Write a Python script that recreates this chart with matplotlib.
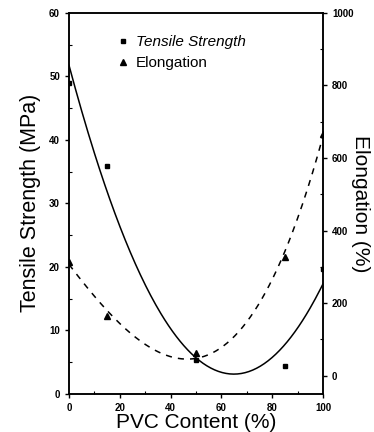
import numpy as np
import matplotlib
matplotlib.use("Agg")
import matplotlib.pyplot as plt
from matplotlib.lines import Line2D
from matplotlib.ticker import MultipleLocator

plt.rcParams['font.family'] = ['Liberation Sans', 'DejaVu Sans']

# dados
pvc = [0, 15, 50, 85, 100]
tensile = [49.0, 35.9, 5.3, 4.4, 19.7]      # MPa
elongation = [314, 164, 63, 327, 667]       # %

# curvas de tendência (ajuste polinomial)
xf = np.linspace(0, 100, 200)
fit_t = np.polyval(np.polyfit(pvc, tensile, 2), xf)
fit_e = np.polyval(np.polyfit(pvc, elongation, 3), xf)

fig = plt.figure(figsize=(3.74, 4.32), dpi=100)
ax = fig.add_axes([0.1845, 0.0887, 0.679, 0.8813])
ax2 = ax.twinx()

ax.plot(pvc, tensile, 's', color='black', ms=3.5)
ax.plot(xf, fit_t, '-', color='black', lw=1.1)
ax2.plot(pvc, elongation, '^', color='black', ms=4.5)
ax2.plot(xf, fit_e, '--', color='black', lw=1.1, dashes=(4, 4))

ax.set_xlim(0, 100)
ax.set_ylim(0, 60)
ax2.set_ylim(-50, 1000)

ax.xaxis.set_major_locator(MultipleLocator(20))
ax.xaxis.set_minor_locator(MultipleLocator(10))
ax.yaxis.set_major_locator(MultipleLocator(10))
ax.yaxis.set_minor_locator(MultipleLocator(5))
ax2.yaxis.set_major_locator(MultipleLocator(200))
ax2.yaxis.set_minor_locator(MultipleLocator(100))

for a in (ax, ax2):
    a.tick_params(which='major', direction='out', length=3, width=1, labelsize=7)
    a.tick_params(which='minor', direction='in', length=2, width=0.8)
    for lab in a.get_xticklabels() + a.get_yticklabels():
        lab.set_fontweight('bold')
    for s in a.spines.values():
        s.set_linewidth(1.1)

ax.set_xlabel('PVC Content (%)', fontsize=15, labelpad=0)
ax.set_ylabel('Tensile Strength (MPa)', fontsize=15.5, labelpad=6)
ax2.set_ylabel('Elongation (%)', fontsize=15, rotation=-90, labelpad=12)

handles = [Line2D([], [], marker='s', ls='none', color='black', ms=3.5),
           Line2D([], [], marker='^', ls='none', color='black', ms=4.5)]
leg = ax.legend(handles, ['Tensile Strength', 'Elongation'], loc='upper left',
                bbox_to_anchor=(0.13, 0.977), frameon=False, fontsize=11,
                handletextpad=0.3, handlelength=1.0, labelspacing=0.45)
leg.get_texts()[0].set_fontstyle('italic')

fig.savefig('out.png', dpi=100)
